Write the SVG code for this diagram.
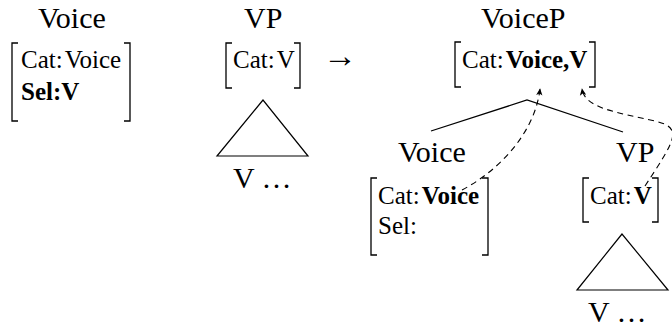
<svg xmlns="http://www.w3.org/2000/svg" width="672" height="327" viewBox="0 0 672 327">
<style>
text{font-family:"Liberation Serif","Times New Roman",serif;fill:#000}
.h{font-size:30px}
.f{font-size:25px}
.b{font-weight:bold}
.br{fill:none;stroke:#000;stroke-width:1.3}
.tri{fill:none;stroke:#000;stroke-width:1.2}
.edge{fill:none;stroke:#000;stroke-width:1.3}
.dash{fill:none;stroke:#000;stroke-width:1.1;stroke-dasharray:6 4.5}
</style>
<defs>
<marker id="tip" viewBox="0 0 10 10" refX="9" refY="5" markerWidth="7" markerHeight="7" markerUnits="userSpaceOnUse" orient="auto">
<path d="M0,0.5 L10,5 L0,9.5 L2.5,5 z" fill="#000"/>
</marker>
</defs>
<rect width="672" height="327" fill="#fff"/>

<g id="voice-lex">
<text class="h" x="38" y="28">Voice</text>
<path class="br" d="M18,43 H12 V121 H18 M124,43 H130 V121 H124"/>
<text class="f" x="21" y="68">Cat:<tspan dx="2">Voice</tspan></text>
<text class="f b" x="21" y="100">Sel:V</text>
</g>

<g id="vp-lex">
<text class="h" x="244" y="28">VP</text>
<path class="br" d="M232,43 H226 V88 H232 M294,43 H300 V88 H294"/>
<text class="f" x="233" y="68">Cat:<tspan dx="2">V</tspan></text>
<path class="tri" d="M263,100 L217,156 L308,156 Z"/>
<text class="h" x="233" y="188">V …</text>
</g>

<g id="arrow-sym">
<text x="323" y="67" font-size="34" font-family="DejaVu Sans">→</text>
</g>

<g id="voicep">
<text class="h" x="481" y="28">VoiceP</text>
<path class="br" d="M461,42 H455 V87 H461 M589,42 H595 V87 H589"/>
<text class="f" x="462" y="68">Cat:<tspan dx="2" class="b">Voice,V</tspan></text>
</g>

<g id="voice-child">
<text class="h" x="398" y="162">Voice</text>
<path class="br" d="M377,178 H371 V255 H377 M482,178 H488 V255 H482"/>
<text class="f" x="378" y="204">Cat:<tspan dx="2" class="b">Voice</tspan></text>
<text class="f" x="378" y="234">Sel:</text>
</g>

<g id="vp-child">
<text class="h" x="616" y="162">VP</text>
<path class="br" d="M589,178 H583 V222 H589 M652,178 H658 V222 H652"/>
<text class="f" x="590" y="204">Cat:<tspan dx="2" class="b">V</tspan></text>
<path class="tri" d="M622,234 L577,290 L668,290 Z"/>
<text class="h" x="588" y="322">V …</text>
</g>

<g id="connectors">
<path class="edge" d="M431,131 L527,100 L623,132"/>
<path class="dash" d="M462,190 C500,170 535,132 540,89" marker-end="url(#tip)"/>
<path class="dash" d="M645,186 C675,140 684,128 655,121 C615,112 585,108 582,89" marker-end="url(#tip)"/>
</g>
</svg>
